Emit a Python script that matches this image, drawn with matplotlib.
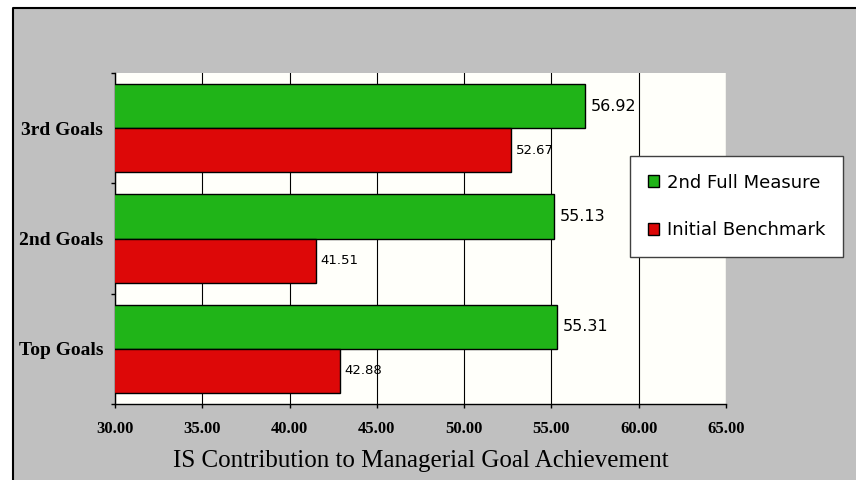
import numpy as np
import matplotlib.pyplot as plt
from matplotlib.patches import Rectangle
from matplotlib.lines import Line2D

categories = ['Top Goals', '2nd Goals', '3rd Goals']
full_measure = [55.31, 55.13, 56.92]
benchmark = [42.88, 41.51, 52.67]
x_ticks = [30, 35, 40, 45, 50, 55, 60, 65]

green = '#20B418'
red = '#DD0808'
serif = 'Liberation Serif'

W, H = 856, 480
fig = plt.figure(figsize=(W / 100, H / 100), dpi=100, facecolor='white')

# grey panel, framed in black along the left and top
x0, y0 = 12.5 / W, 1 - 8.3 / H
fig.patches.append(Rectangle((x0, -0.05), 1.1 - x0, y0 + 0.05,
                             transform=fig.transFigure, facecolor='#C0C0C0',
                             edgecolor='none', zorder=-10))
fig.lines.append(Line2D([x0, x0, 1.1], [-0.05, y0, y0], transform=fig.transFigure,
                        color='black', linewidth=1.5, zorder=-9))

ax = fig.add_axes([115 / W, 1 - 404 / H, (726 - 115) / W, (404 - 73) / H])
ax.set_facecolor('#FFFFFA')

y = np.arange(len(categories))
h = 0.4
b1 = ax.barh(y + h / 2, full_measure, height=h, color=green, edgecolor='black',
             linewidth=1, label='2nd Full Measure', zorder=3)
b2 = ax.barh(y - h / 2, benchmark, height=h, color=red, edgecolor='black',
             linewidth=1, label='Initial Benchmark', zorder=3)

ax.bar_label(b1, fmt='%.2f', padding=4.5, fontsize=11.5, family='DejaVu Sans')
ax.bar_label(b2, fmt='%.2f', padding=3.5, fontsize=9.5, family='DejaVu Sans')

ax.set_xlim(30, 65)
ax.set_ylim(-0.5, 2.5)
ax.set_xticks(x_ticks)
ax.set_xticklabels([f'{t:.2f}' for t in x_ticks], family=serif,
                   fontweight='bold', fontsize=12)
ax.grid(axis='x', color='black', linewidth=0.8, zorder=1)
ax.set_axisbelow(True)

# category boundaries get ticks, names sit between them
ax.set_yticks([-0.5, 0.5, 1.5, 2.5])
ax.set_yticklabels([])
ax.set_yticks(y, minor=True)
ax.set_yticklabels(categories, minor=True, family=serif, fontweight='bold',
                   fontsize=14)
ax.tick_params(axis='y', which='minor', length=0, pad=8.5)
ax.tick_params(axis='y', which='major', length=3, width=1)
ax.tick_params(axis='x', length=3, width=1, pad=9)

for s in ['top', 'right']:
    ax.spines[s].set_visible(False)
ax.spines['left'].set_linewidth(1)
ax.spines['bottom'].set_linewidth(1)

ax.set_xlabel('IS Contribution to Managerial Goal Achievement', family=serif,
              fontsize=18, labelpad=9.5)

leg = ax.legend(loc='upper left', bbox_to_anchor=(630 / W, 1 - 156 / H),
                bbox_transform=fig.transFigure, borderaxespad=0,
                prop={'family': 'DejaVu Sans', 'size': 13},
                handlelength=0.66, handleheight=0.66, handletextpad=0.4,
                labelspacing=1.65, borderpad=0.97, fancybox=False,
                framealpha=1, facecolor='white', edgecolor='#404040')
leg.get_frame().set_linewidth(1)

fig.savefig('out.png', dpi=100, facecolor=fig.get_facecolor())
